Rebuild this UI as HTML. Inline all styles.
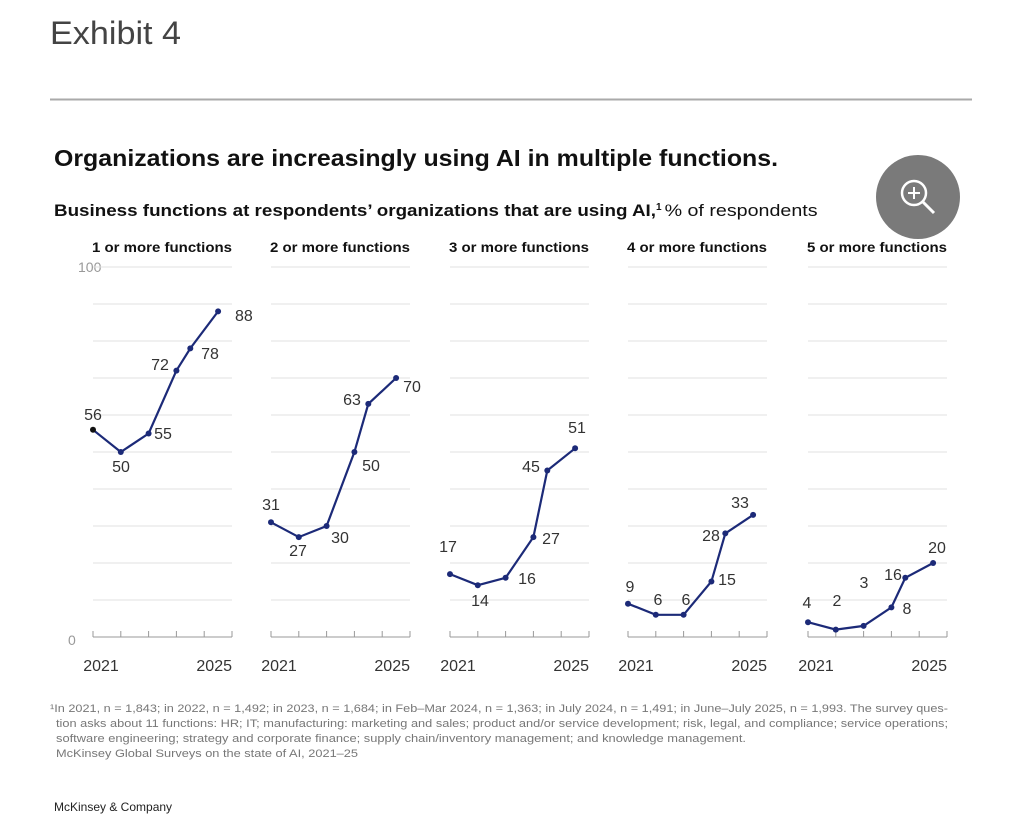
<!DOCTYPE html>
<html><head><meta charset="utf-8"><style>
body{margin:0;background:#fff;width:1024px;height:831px;overflow:hidden;font-family:"Liberation Sans",sans-serif}
</style></head><body>
<svg width="1024" height="831" xmlns="http://www.w3.org/2000/svg" font-family="Liberation Sans, sans-serif">
<text x="50" y="44" font-size="32" fill="#444" textLength="131" lengthAdjust="spacingAndGlyphs">Exhibit 4</text>
<line x1="50" y1="99.5" x2="972" y2="99.5" stroke="#aaa" stroke-width="2"/>
<text x="54" y="166" font-size="23" font-weight="bold" fill="#111" textLength="724" lengthAdjust="spacingAndGlyphs">Organizations are increasingly using AI in multiple functions.</text>
<text x="54" y="216" font-size="16.5" fill="#111"><tspan font-weight="bold" textLength="602" lengthAdjust="spacingAndGlyphs">Business functions at respondents’ organizations that are using AI,</tspan><tspan font-size="10" dy="-6" font-weight="bold">1</tspan><tspan dy="6" dx="3" textLength="153" lengthAdjust="spacingAndGlyphs">% of respondents</tspan></text>
<circle cx="918" cy="197" r="42" fill="#7a7a7a"/>
<circle cx="914" cy="193" r="12" fill="none" stroke="#fff" stroke-width="2.5"/>
<line x1="923" y1="202" x2="934" y2="213" stroke="#fff" stroke-width="3"/>
<line x1="908" y1="193" x2="920" y2="193" stroke="#fff" stroke-width="2"/>
<line x1="914" y1="187" x2="914" y2="199" stroke="#fff" stroke-width="2"/>
<text x="78" y="272" font-size="14" fill="#999">100</text>
<text x="68" y="645" font-size="14" fill="#999">0</text>
<g id="panels" font-size="16" fill="#222"></g>
<text x="50" y="712" font-size="11" fill="#777" textLength="898" lengthAdjust="spacingAndGlyphs">¹In 2021, n = 1,843; in 2022, n = 1,492; in 2023, n = 1,684; in Feb–Mar 2024, n = 1,363; in July 2024, n = 1,491; in June–July 2025, n = 1,993. The survey ques-</text>
<text x="56" y="727" font-size="11" fill="#777" textLength="892" lengthAdjust="spacingAndGlyphs">tion asks about 11 functions: HR; IT; manufacturing: marketing and sales; product and/or service development; risk, legal, and compliance; service operations;</text>
<text x="56" y="742" font-size="11" fill="#777" textLength="690" lengthAdjust="spacingAndGlyphs">software engineering; strategy and corporate finance; supply chain/inventory management; and knowledge management.</text>
<text x="56" y="757" font-size="11" fill="#777" textLength="302" lengthAdjust="spacingAndGlyphs">McKinsey Global Surveys on the state of AI, 2021–25</text>
<text x="54" y="811" font-size="12" fill="#222">McKinsey &amp; Company</text>
</svg>
<script>
const P=[
{x0:93,t:"1 or more functions",v:[56,50,55,72,78,88],l:[[93,420],[121,472],[163,439],[160,370],[210,359],[235,321]],a:["middle","middle","middle","middle","middle","start"]},
{x0:271,t:"2 or more functions",v:[31,27,30,50,63,70],l:[[271,510],[298,556],[340,543],[371,471],[352,405],[412,392]]},
{x0:450,t:"3 or more functions",v:[17,14,16,27,45,51],l:[[448,552],[480,606],[527,584],[551,544],[531,472],[577,433]]},
{x0:628,t:"4 or more functions",v:[9,6,6,15,28,33],l:[[630,592],[658,605],[686,605],[727,585],[711,541],[740,508]]},
{x0:808,t:"5 or more functions",v:[4,2,3,8,16,20],l:[[807,608],[837,606],[864,588],[907,614],[893,580],[937,553]]}];
const st=27.8,xs=[0,1,2,3,3.5,4.5],y=v=>637-3.7*v;let h="";
for(const p of P){
h+=`<text x="${p.x0-1}" y="252" font-size="14" font-weight="bold" fill="#111" textLength="140" lengthAdjust="spacingAndGlyphs">${p.t}</text>`;
for(let g=10;g<=100;g+=10)h+=`<line x1="${p.x0}" x2="${p.x0+139}" y1="${y(g)}" y2="${y(g)}" stroke="#e2e2e2"/>`;
h+=`<line x1="${p.x0}" x2="${p.x0+139}" y1="637" y2="637" stroke="#999"/>`;
for(let i=0;i<=5;i++)h+=`<line x1="${p.x0+i*st}" x2="${p.x0+i*st}" y1="631" y2="637" stroke="#999"/>`;
h+=`<text x="${p.x0+8}" y="671" font-size="16" text-anchor="middle" fill="#333">2021</text><text x="${p.x0+139}" y="671" font-size="16" text-anchor="end" fill="#333">2025</text>`;
const pts=p.v.map((v,i)=>[p.x0+xs[i]*st,y(v)]);
h+=`<polyline points="${pts.map(q=>q.join(',')).join(' ')}" fill="none" stroke="#1c2a78" stroke-width="2.2"/>`;
pts.forEach((q,i)=>{h+=`<circle cx="${q[0]}" cy="${q[1]}" r="3" fill="${i==0&&p.x0==93?'#111':'#1c2a78'}"/>`;
h+=`<text x="${p.l[i][0]}" y="${p.l[i][1]}" text-anchor="${p.a?p.a[i]:'middle'}" font-size="16" fill="#333">${p.v[i]}</text>`;});
}
document.getElementById("panels").innerHTML=h;
</script>
</body></html>
